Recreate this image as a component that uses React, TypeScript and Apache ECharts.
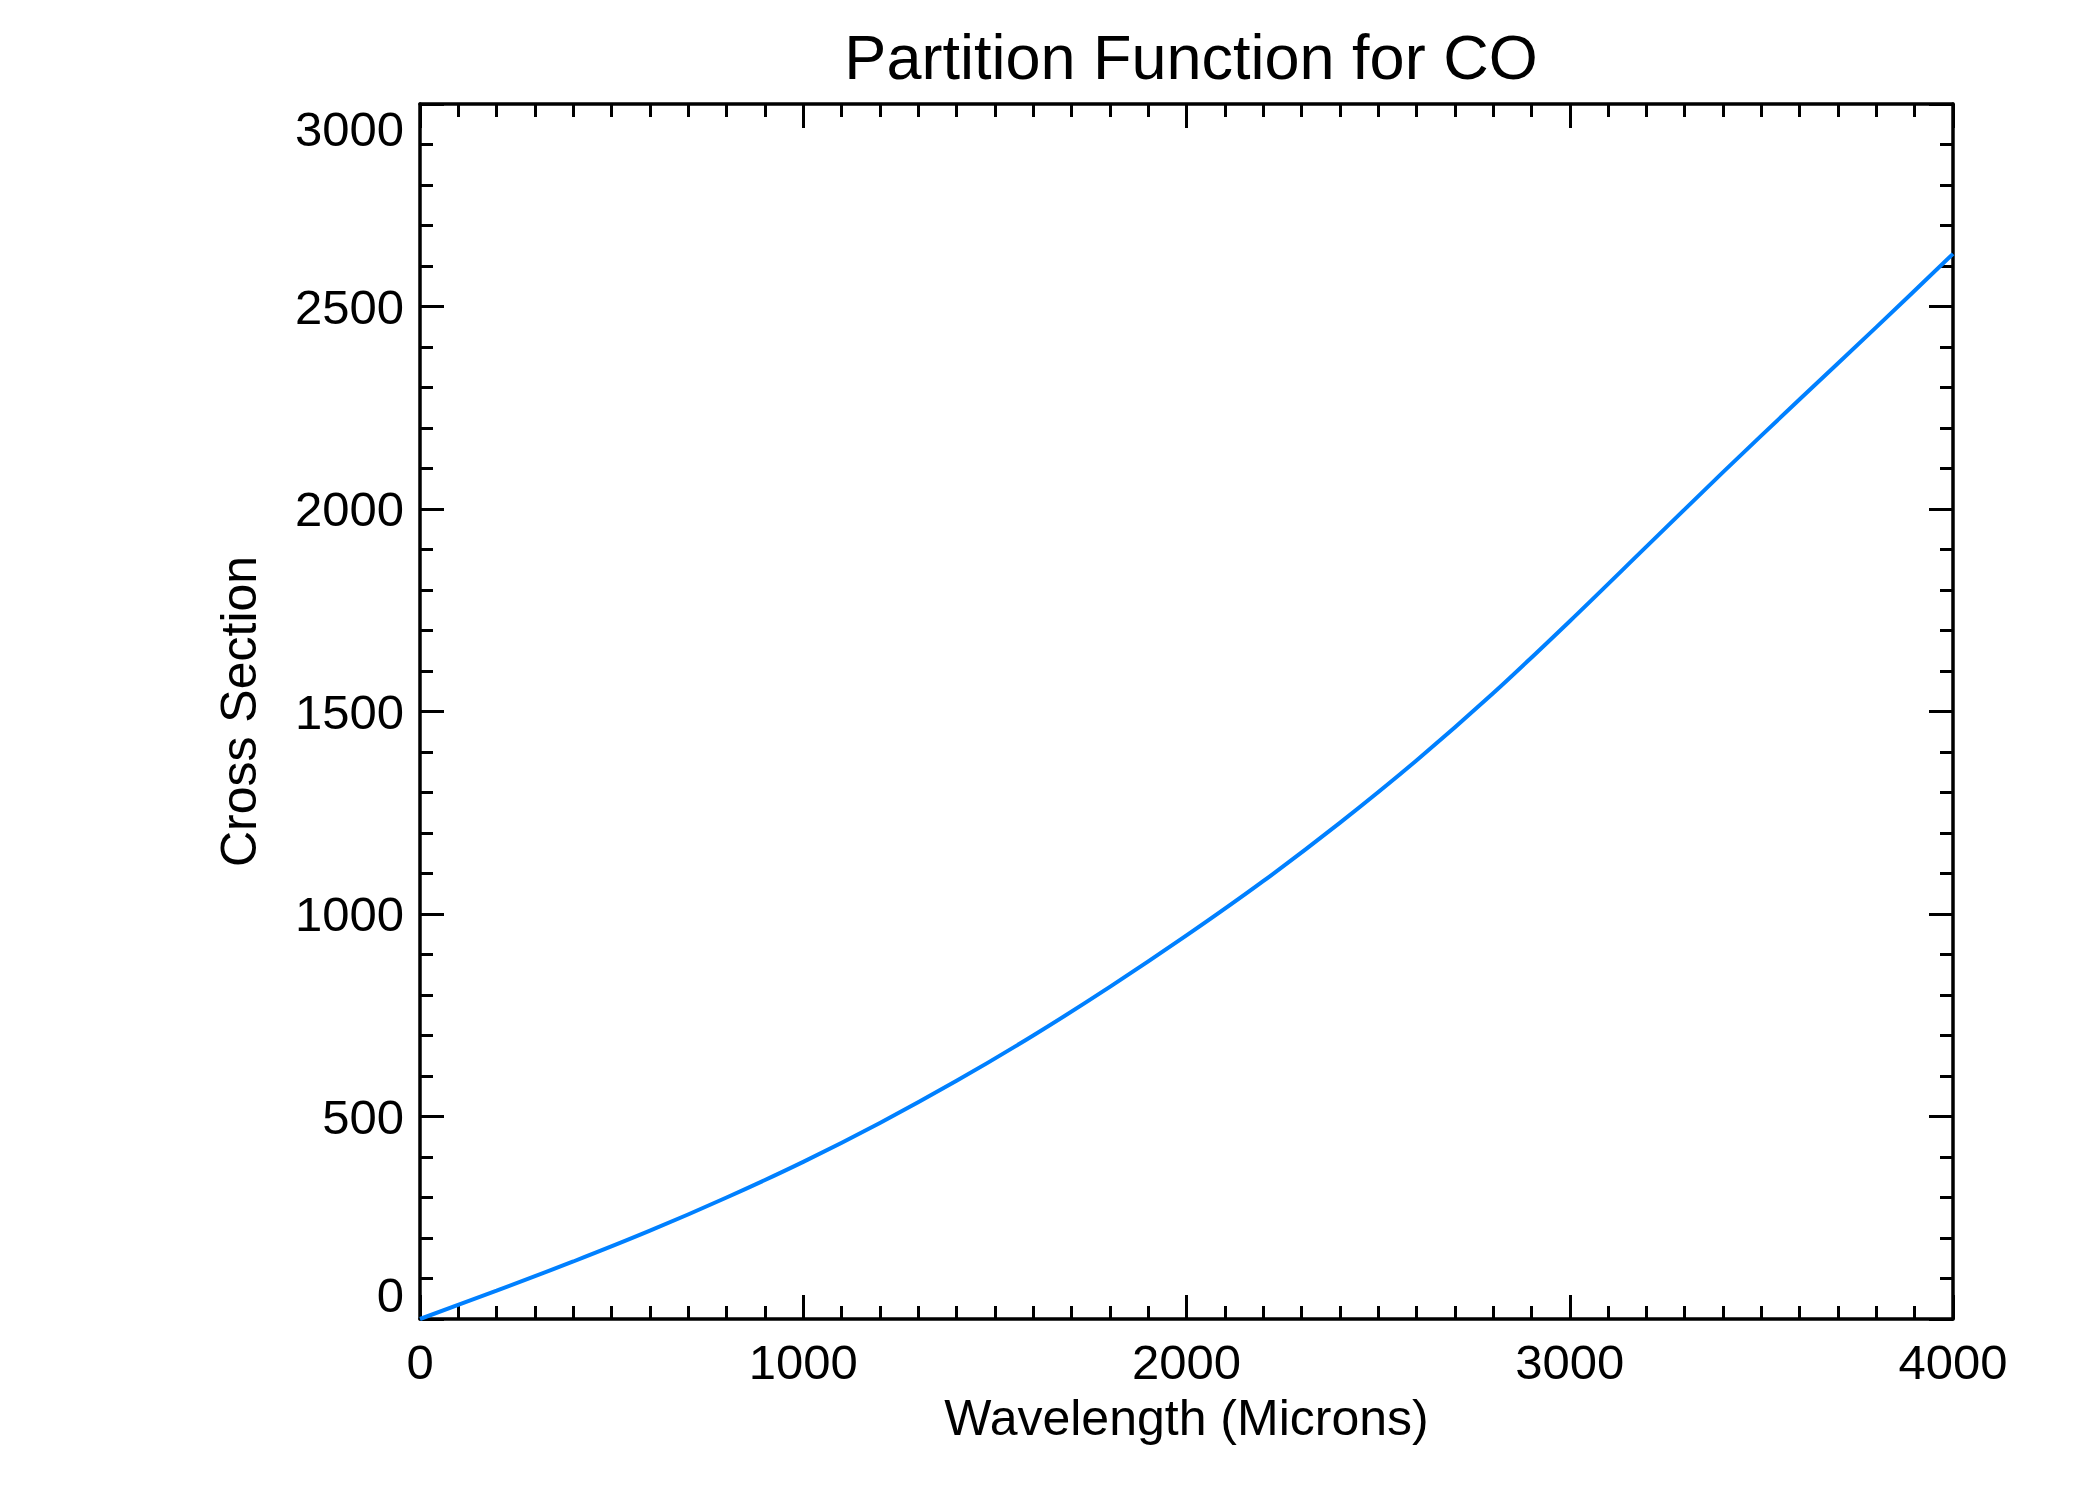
import React, { useEffect, useRef } from "react";
import * as echarts from "echarts";

const wavelengths = [0, 200, 400, 600, 800, 1000, 1200, 1400, 1600, 1800, 2000, 2200, 2400, 2600, 2800, 3000, 3200, 3400, 3600, 3800, 4000];
const crossSection = [0, 70, 142, 218, 300, 388, 484, 588, 700, 820, 947, 1081, 1225, 1379, 1545, 1723, 1907, 2091, 2271, 2449, 2630];

const titleText = "Partition Function for CO";
const xName = "Wavelength (Microns)";
const yName = "Cross Section";

const FONT = "'Liberation Sans', Arial, Helvetica, sans-serif";

export default function App() {
  const ref = useRef<HTMLDivElement>(null);
  useEffect(() => {
    if (!ref.current) return;
    const chart = echarts.init(ref.current, undefined, { renderer: "svg" });
    const axisLine = { show: true, onZero: false, lineStyle: { color: "#000", width: 3.5 } };
    const axisTick = { show: true, inside: true, length: 24, lineStyle: { color: "#000", width: 3 } };
    const minorTickX = { show: true, splitNumber: 10, length: 13, lineStyle: { color: "#000", width: 3 } };
    const minorTickY = { show: true, splitNumber: 5, length: 13, lineStyle: { color: "#000", width: 3 } };
    const data = wavelengths.map((w, i) => [w, crossSection[i]]);
    const plain = (v: number) => String(v);
    chart.setOption({
      animation: false,
      backgroundColor: "#fff",
      title: {
        text: titleText,
        left: 1186,
        top: 20,
        textAlign: "center",
        textStyle: { fontFamily: FONT, fontSize: 63, fontWeight: "normal", color: "#000" },
      },
      grid: { left: 420, right: 147, top: 104, bottom: 181, containLabel: false },
      xAxis: [
        {
          type: "value",
          min: 0,
          max: 4000,
          interval: 1000,
          position: "bottom",
          axisLine,
          axisTick,
          minorTick: minorTickX,
          splitLine: { show: false },
          axisLabel: { show: true, margin: 18, color: "#000", fontFamily: FONT, fontSize: 49, formatter: plain },
          name: xName,
          nameLocation: "middle",
          nameGap: 74,
          nameTextStyle: { color: "#000", fontFamily: FONT, fontSize: 50 },
        },
        {
          type: "value",
          min: 0,
          max: 4000,
          interval: 1000,
          position: "top",
          axisLine,
          axisTick,
          minorTick: minorTickX,
          splitLine: { show: false },
          axisLabel: { show: false },
        },
      ],
      yAxis: [
        {
          type: "value",
          min: 0,
          max: 3000,
          interval: 500,
          position: "left",
          axisLine,
          axisTick,
          minorTick: minorTickY,
          splitLine: { show: false },
          axisLabel: {
            show: true,
            margin: 16,
            color: "#000",
            fontFamily: FONT,
            fontSize: 49,
            formatter: plain,
            verticalAlignMinLabel: "bottom",
            verticalAlignMaxLabel: "top",
          },
          name: yName,
          nameLocation: "middle",
          nameGap: 156,
          nameTextStyle: { color: "#000", fontFamily: FONT, fontSize: 50 },
        },
        {
          type: "value",
          min: 0,
          max: 3000,
          interval: 500,
          position: "right",
          axisLine,
          axisTick,
          minorTick: minorTickY,
          splitLine: { show: false },
          axisLabel: { show: false },
        },
      ],
      series: [
        {
          type: "line",
          xAxisIndex: 0,
          yAxisIndex: 0,
          data,
          smooth: 0.3,
          showSymbol: false,
          symbol: "none",
          lineStyle: { color: "#0080ff", width: 4 },
        },
      ],
    });
    return () => chart.dispose();
  }, []);
  return (
    <div
      ref={ref}
      style={{ position: "absolute", left: 0, top: 0, width: 2100, height: 1500, background: "#fff" }}
    />
  );
}
